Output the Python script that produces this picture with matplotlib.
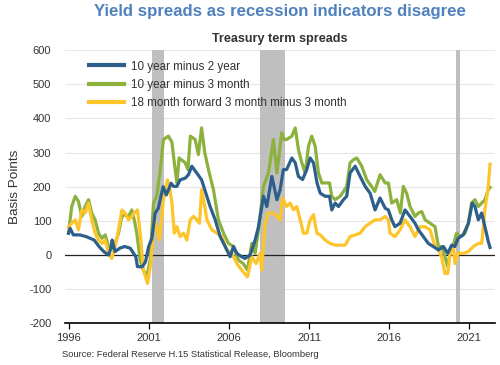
import matplotlib.pyplot as plt
import numpy as np

plt.rcParams["font.family"] = ["Liberation Sans", "DejaVu Sans"]
plt.rcParams["axes.unicode_minus"] = False

# recessions (fractional years)
recessions = [(2001.2, 2001.93), (2007.95, 2009.51), (2020.15, 2020.4)]

# 10 year minus 2 year
blue_t = [1996.0, 1996.1, 1996.3, 1996.7, 1997.1, 1997.6, 1997.9, 1998.2, 1998.5, 1998.65,
          1998.72, 1998.9, 1999.2, 1999.5, 1999.85, 2000.2, 2000.3, 2000.6, 2000.8, 2001.0,
          2001.2, 2001.4, 2001.6, 2001.9, 2002.1, 2002.4, 2002.55, 2002.76, 2002.96, 2003.28,
          2003.48, 2003.69, 2004.0, 2004.3, 2004.5, 2004.83, 2005.15, 2005.46, 2005.77, 2006.08,
          2006.29, 2006.5, 2006.8, 2007.0, 2007.33, 2007.64, 2007.85, 2008.16, 2008.37, 2008.68,
          2009.0, 2009.2, 2009.4, 2009.6, 2009.93, 2010.14, 2010.34, 2010.6, 2010.86, 2011.07,
          2011.28, 2011.5, 2011.7, 2012.0, 2012.28, 2012.42, 2012.63, 2012.84, 2013.15, 2013.35,
          2013.56, 2013.88, 2014.19, 2014.5, 2014.81, 2015.12, 2015.43, 2015.75, 2015.95, 2016.16,
          2016.36, 2016.68, 2016.99, 2017.3, 2017.61, 2017.82, 2018.13, 2018.44, 2018.75, 2019.07,
          2019.38, 2019.65, 2019.9, 2020.1, 2020.3, 2020.62, 2020.94, 2021.18, 2021.35, 2021.56,
          2021.77, 2021.97, 2022.18, 2022.29]
blue_bp = [64, 78, 59, 59, 54, 44, 25, 10, 0, 20,
           44, 10, 20, 25, 20, -5, -34, -34, -20, 25,
           49, 122, 137, 200, 176, 210, 201, 201, 220, 225,
           235, 260, 240, 220, 191, 142, 103, 54, 25, -5,
           25, 5, -5, -10, 0, 44, 83, 172, 142, 230,
           162, 191, 250, 250, 284, 270, 230, 221, 250, 284,
           270, 211, 181, 172, 172, 132, 152, 142, 162, 172,
           240, 260, 230, 201, 181, 132, 167, 137, 132, 103,
           83, 93, 132, 113, 93, 74, 54, 34, 25, 15,
           25, 5, 29, 25, 49, 59, 93, 152, 142, 103,
           123, 83, 40, 22]

# 10 year minus 3 month
green_t = [1996.0, 1996.2, 1996.42, 1996.62, 1996.83, 1997.04, 1997.25, 1997.45, 1997.66, 1997.87,
           1998.08, 1998.29, 1998.5, 1998.7, 1998.91, 1999.12, 1999.33, 1999.53, 1999.74, 1999.95,
           2000.1, 2000.26, 2000.47, 2000.67, 2000.88, 2001.09, 2001.3, 2001.5, 2001.7, 2001.92,
           2002.23, 2002.45, 2002.6, 2002.76, 2002.9, 2003.28, 2003.45, 2003.6, 2003.9, 2004.1,
           2004.3, 2004.5, 2004.73, 2005.04, 2005.35, 2005.67, 2005.98, 2006.29, 2006.6, 2006.9,
           2007.16, 2007.43, 2007.64, 2007.85, 2008.16, 2008.47, 2008.78, 2009.0, 2009.3, 2009.45,
           2009.6, 2009.93, 2010.14, 2010.34, 2010.55, 2010.76, 2010.97, 2011.17, 2011.38, 2011.59,
           2011.8, 2012.1, 2012.28, 2012.42, 2012.63, 2012.94, 2013.15, 2013.35, 2013.56, 2013.77,
           2013.98, 2014.29, 2014.6, 2014.9, 2015.1, 2015.43, 2015.75, 2015.95, 2016.16, 2016.47,
           2016.7, 2016.88, 2017.09, 2017.3, 2017.61, 2017.82, 2018.03, 2018.24, 2018.55, 2018.86,
           2019.07, 2019.27, 2019.48, 2019.65, 2019.8, 2020.0, 2020.2, 2020.42, 2020.73, 2020.94,
           2021.14, 2021.35, 2021.56, 2021.77, 2021.97, 2022.18, 2022.29]
green_bp = [64, 142, 172, 157, 113, 142, 162, 123, 103, 64,
            49, 59, 25, 20, 34, 64, 113, 118, 113, 132,
            103, 64, -15, -44, -64, -15, 152, 172, 240, 338,
            348, 330, 270, 211, 284, 270, 250, 348, 338, 294,
            372, 299, 250, 191, 103, 64, 34, 25, -15, -25,
            -44, 34, 5, 74, 201, 240, 338, 240, 358, 338,
            338, 348, 372, 309, 270, 240, 319, 348, 319, 240,
            211, 211, 211, 172, 162, 172, 186, 201, 270, 279,
            284, 260, 220, 201, 186, 235, 211, 211, 152, 162,
            123, 201, 181, 142, 113, 123, 127, 103, 93, 83,
            25, 25, -5, -34, 5, 29, 64, 54, 64, 93,
            152, 162, 142, 152, 162, 191, 198]

# 18 month forward 3 month minus 3 month
yellow_t = [1996.0, 1996.2, 1996.42, 1996.62, 1996.83, 1997.04, 1997.25, 1997.45, 1997.66, 1997.87,
            1998.08, 1998.29, 1998.5, 1998.7, 1998.91, 1999.12, 1999.33, 1999.53, 1999.74, 1999.95,
            2000.1, 2000.3, 2000.47, 2000.67, 2000.93, 2001.13, 2001.34, 2001.5, 2001.67, 2001.92,
            2002.17, 2002.3, 2002.45, 2002.6, 2002.76, 2002.96, 2003.17, 2003.38, 2003.59, 2003.8,
            2004.0, 2004.17, 2004.3, 2004.5, 2004.63, 2004.94, 2005.25, 2005.56, 2005.87, 2006.18,
            2006.5, 2006.8, 2007.16, 2007.43, 2007.7, 2007.95, 2008.05, 2008.26, 2008.47, 2008.78,
            2009.0, 2009.2, 2009.35, 2009.6, 2009.82, 2010.03, 2010.24, 2010.45, 2010.65, 2010.86,
            2011.07, 2011.28, 2011.49, 2011.7, 2012.0, 2012.32, 2012.63, 2012.94, 2013.25, 2013.56,
            2013.88, 2014.19, 2014.5, 2014.8, 2015.12, 2015.43, 2015.75, 2015.95, 2016.05, 2016.36,
            2016.68, 2016.99, 2017.3, 2017.61, 2017.92, 2018.23, 2018.55, 2018.86, 2019.07, 2019.27,
            2019.48, 2019.65, 2019.8, 2020.0, 2020.1, 2020.3, 2020.62, 2020.94, 2021.25, 2021.56,
            2021.77, 2021.97, 2022.18, 2022.29]
yellow_bp = [83, 93, 103, 74, 132, 123, 152, 103, 64, 44,
             34, 44, 5, -10, 25, 74, 132, 123, 103, 113,
             123, 132, 64, -44, -83, -25, 103, 83, 44, 162,
             220, 200, 152, 64, 83, 54, 64, 44, 103, 113,
             103, 93, 191, 142, 103, 74, 64, 54, 15, 5,
             -25, -44, -64, -5, -25, 5, -44, 93, 123, 123,
             113, 103, 167, 142, 152, 132, 142, 103, 64, 64,
             103, 118, 64, 59, 44, 34, 29, 29, 29, 54,
             59, 64, 83, 93, 103, 103, 113, 103, 64, 54,
             74, 103, 83, 54, 83, 83, 74, 25, 15, -5,
             -54, -54, 5, 29, -25, 5, 5, 10, 25, 34,
             34, 132, 201, 266]

xticks = [1996, 2001, 2006, 2011, 2016, 2021]
yticks = [-200, -100, 0, 100, 200, 300, 400, 500, 600]

fig = plt.figure(figsize=(5, 3.65), dpi=100)
ax = fig.add_axes([0.129, 0.114, 0.861, 0.749])

for start, end in recessions:
    ax.axvspan(start, end, color="#bfbfbf", lw=0, zorder=1)

ax.plot(blue_t, blue_bp, color="#2d5f8b", lw=2.3, label="10 year minus 2 year", zorder=5)
ax.plot(green_t, green_bp, color="#8cb13d", lw=2.3, label="10 year minus 3 month", zorder=3)
ax.plot(yellow_t, yellow_bp, color="#fdc52a", lw=2.3,
        label="18 month forward 3 month minus 3 month", zorder=4)
ax.axhline(0, color="#222222", lw=0.9, zorder=2)

ax.set_xlim(1995.75, 2022.6)
ax.set_ylim(-200, 600)
ax.set_xticks(xticks)
ax.set_yticks(yticks)
ax.grid(axis="y", color="#e6e6e6", lw=0.8, zorder=0)
ax.set_axisbelow(True)
for s in ["top", "right", "left"]:
    ax.spines[s].set_visible(False)
ax.spines["bottom"].set_color("black")
ax.spines["bottom"].set_linewidth(1.2)
ax.spines["bottom"].set_zorder(6)
ax.tick_params(axis="y", length=0, labelsize=8, labelcolor="#333333", pad=9.5)
ax.tick_params(axis="x", length=4, width=0.9, direction="out", labelsize=8,
               labelcolor="#333333", pad=3)
ax.set_ylabel("Basis Points", fontsize=9.7, color="#333333", labelpad=6)

leg = ax.legend(loc="upper left", bbox_to_anchor=(0.033, 1.0), frameon=False,
                fontsize=8.4, handlelength=2.95, handletextpad=0.62, labelspacing=0.55)
for line in leg.get_lines():
    line.set_linewidth(3)
for t in leg.get_texts():
    t.set_color("#333333")

fig.text(0.56, 0.955, "Yield spreads as recession indicators disagree", ha="center",
         fontsize=12.1, fontweight="bold", color="#4f81bd")
fig.text(0.56, 0.885, "Treasury term spreads", ha="center", fontsize=9.1,
         fontweight="bold", color="#333333")
fig.text(0.125, 0.022, "Source: Federal Reserve H.15 Statistical Release, Bloomberg",
         fontsize=6.75, color="#333333")

plt.savefig("out.png", dpi=100)
